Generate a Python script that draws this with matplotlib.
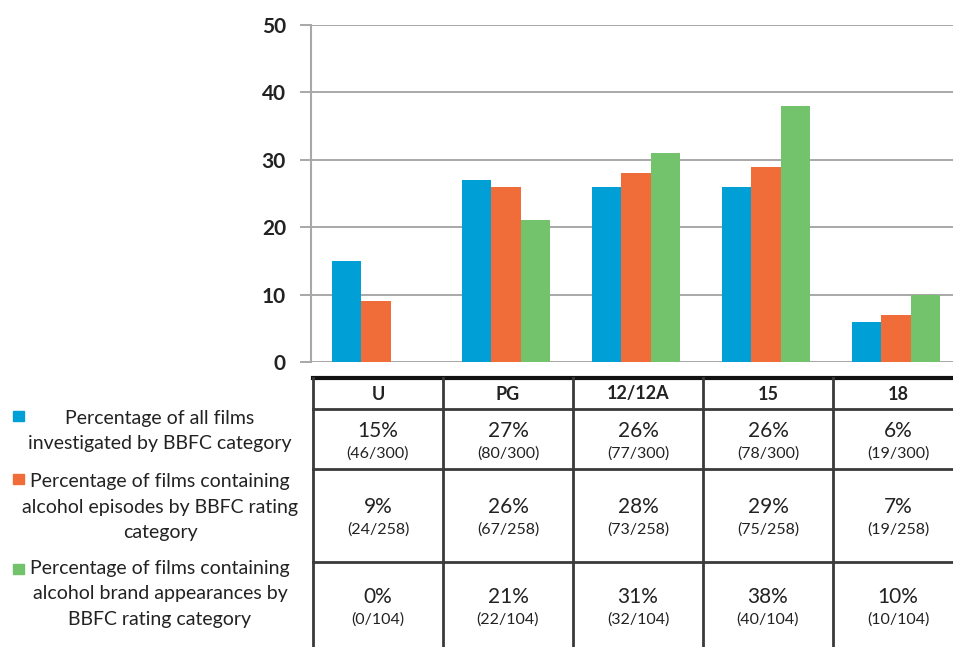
import matplotlib
matplotlib.use('Agg')
import matplotlib.pyplot as plt
import numpy as np

plt.rcParams['font.family'] = ['Lato', 'DejaVu Sans']

categories = ['U', 'PG', '12/12A', '15', '18']
all_films = [15, 27, 26, 26, 6]
alcohol_episodes = [9, 26, 28, 29, 7]
brand_appearances = [0, 21, 31, 38, 10]
all_counts = ['46/300', '80/300', '77/300', '78/300', '19/300']
episode_counts = ['24/258', '67/258', '73/258', '75/258', '19/258']
brand_counts = ['0/104', '22/104', '32/104', '40/104', '10/104']
series_labels = ['Percentage of all films\ninvestigated by BBFC category',
                 'Percentage of films containing\nalcohol episodes by BBFC rating\ncategory',
                 'Percentage of films containing\nalcohol brand appearances by\nBBFC rating category']
colors = ['#00A0D6', '#F06C38', '#73C26C']

W, H = 954, 647
fig = plt.figure(figsize=(W/100, H/100), dpi=100)

# bar chart part
ax = fig.add_axes([311/W, 1-362/H, 650/W, 337/H])
x = np.arange(len(categories))
w = 0.227
for i, vals in enumerate([all_films, alcohol_episodes, brand_appearances]):
    ax.bar(x + (i-1)*w, vals, width=w, color=colors[i], zorder=3)
ax.set_xlim(-0.5, 4.5)
ax.set_ylim(0, 50)
ax.set_yticks(range(0, 51, 10))
ax.yaxis.grid(True, color='#9a9a9a', linewidth=1.2, zorder=0)
ax.set_xticks([])
for s in ['top', 'right', 'bottom']:
    ax.spines[s].set_visible(False)
ax.spines['left'].set_color('#a8a8a8')
ax.spines['left'].set_linewidth(1.5)
ax.tick_params(axis='y', length=8, color='#9a9a9a', width=1.2, pad=10,
               labelsize=15)
for t in ax.get_yticklabels():
    t.set_fontweight('bold')
    t.set_color('#222222')

# table + legend, figure pixel coords
ov = fig.add_axes([0, 0, 1, 1])
ov.set_xlim(0, W)
ov.set_ylim(H, 0)
ov.axis('off')

col_edges = [313 + 130*k for k in range(len(categories)+1)]
row_edges = [378, 409, 469, 562, 680]
lc = '#3a3a3a'
ov.plot([313, W], [378, 378], color='#111111', lw=3)
for y in row_edges[1:-1]:
    ov.plot([313, W], [y, y], color=lc, lw=2)
for xe in col_edges:
    ov.plot([xe, xe], [378, H], color=lc, lw=2)

rows = [(all_films, all_counts), (alcohol_episodes, episode_counts),
        (brand_appearances, brand_counts)]
pct_y = [431, 507, 597]
cnt_y = [454, 530, 620]
for j, cat in enumerate(categories):
    cx = col_edges[j] + 65
    ov.text(cx, 394, cat, ha='center', va='center', fontsize=13,
            fontweight='bold', color='#222222')
    for r, (pv, cv) in enumerate(rows):
        ov.text(cx, pct_y[r], f'{pv[j]}%', ha='center', va='center',
                fontsize=15, color='#222222')
        ov.text(cx, cnt_y[r], f'({cv[j]})', ha='center', va='center',
                fontsize=11.5, color='#222222')

leg_y = [431, 507, 594]
sq_y = [416, 479, 569]
for i, lab in enumerate(series_labels):
    ov.add_patch(plt.Rectangle((13, sq_y[i]-5), 11, 10, color=colors[i]))
    ov.text(160, leg_y[i], lab, ha='center', va='center', fontsize=14,
            linespacing=1.6, color='#222222')

fig.savefig('out.png', dpi=100)
